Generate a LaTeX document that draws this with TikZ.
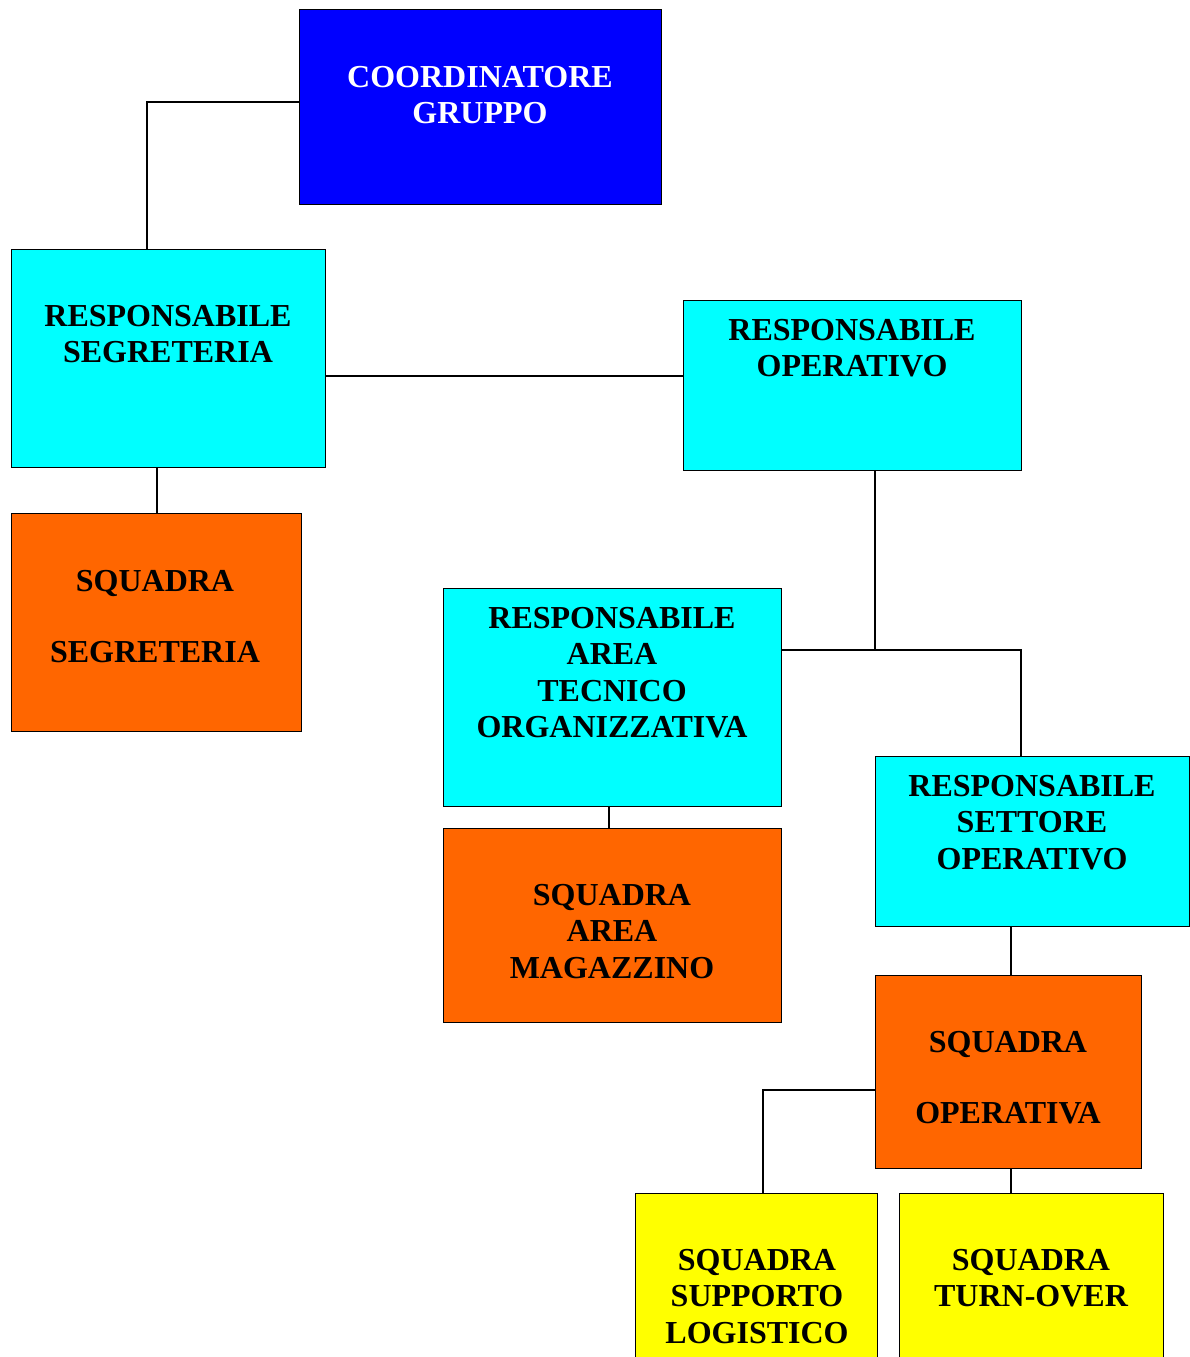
\documentclass[tikz,border=0pt]{standalone}
\usepackage{fontspec}
\setmainfont{Liberation Serif}
\begin{document}
\begin{tikzpicture}[x=1pt,y=-1pt,
  box/.style={draw=black,line width=0.9pt,rectangle,inner sep=0pt},
  blu/.style={box,fill={rgb,255:red,0;green,0;blue,255}},
  cya/.style={box,fill={rgb,255:red,0;green,255;blue,255}},
  ora/.style={box,fill={rgb,255:red,255;green,102;blue,0}},
  yel/.style={box,fill={rgb,255:red,255;green,255;blue,0}},
  lbl/.style={anchor=north,inner sep=0pt,align=center,font=\fontsize{32}{36.5}\selectfont\bfseries},
  conn/.style={draw=black,line width=1.2pt}]
\clip (0,0) rectangle (1190,1357);
\fill[white] (0,0) rectangle (1190,1357);
% boxes
\path[blu] (299,9) rectangle (661,204);
\coordinate (coordL) at (299,102);
\path[cya] (11,249) rectangle (325,467);
\coordinate (segT) at (147,249);
\coordinate (segR) at (325,376);
\coordinate (segB) at (157,467);
\path[cya] (683,300) rectangle (1021,470);
\coordinate (opL) at (683,376);
\coordinate (opB) at (875,470);
\path[ora] (11,513) rectangle (301,731);
\coordinate (sqsegT) at (157,513);
\path[cya] (443,588) rectangle (781,806);
\coordinate (atR) at (781,650);
\coordinate (atB) at (609,806);
\path[ora] (443,828) rectangle (781,1022);
\coordinate (magT) at (609,828);
\path[cya] (875,756) rectangle (1189,926);
\coordinate (setT) at (1021,756);
\coordinate (setB) at (1011,926);
\path[ora] (875,975) rectangle (1141,1168);
\coordinate (sqopT) at (1011,975);
\coordinate (sqopL) at (875,1090);
\coordinate (sqopB) at (1011,1168);
\path[yel] (635,1193) rectangle (877,1400);
\coordinate (supT) at (763,1193);
\path[yel] (899,1193) rectangle (1163,1400);
\coordinate (turnT) at (1011,1193);
% labels
\node[lbl,text=white] (tcoord) at (480,66) {COORDINATORE\\GRUPPO};
\node[lbl] (tseg) at (168,305) {RESPONSABILE\\SEGRETERIA};
\node[lbl] (top) at (852,319) {RESPONSABILE\\OPERATIVO};
\node[lbl] (tsqseg) at (155,570) {SQUADRA\\[35pt]SEGRETERIA};
\node[lbl] (tat) at (612,607) {RESPONSABILE\\AREA\\TECNICO\\ORGANIZZATIVA};
\node[lbl] (tmag) at (612,884) {SQUADRA\\AREA\\MAGAZZINO};
\node[lbl] (tset) at (1032,775) {RESPONSABILE\\SETTORE\\OPERATIVO};
\node[lbl] (tsqop) at (1008,1031) {SQUADRA\\[35pt]OPERATIVA};
\node[lbl] (tsup) at (757,1249) {SQUADRA\\SUPPORTO\\LOGISTICO};
\node[lbl] (tturn) at (1031,1249) {SQUADRA\\TURN-OVER};
% connectors
\draw[conn] (coordL) -| (segT);
\draw[conn] (segR) -- (opL);
\draw[conn] (segB) -- (sqsegT);
\draw[conn] (opB) |- (atR);
\draw[conn] (atR) -| (setT);
\draw[conn] (atB) -- (magT);
\draw[conn] (setB) -- (sqopT);
\draw[conn] (sqopL) -| (supT);
\draw[conn] (sqopB) -- (turnT);
\end{tikzpicture}
\end{document}
